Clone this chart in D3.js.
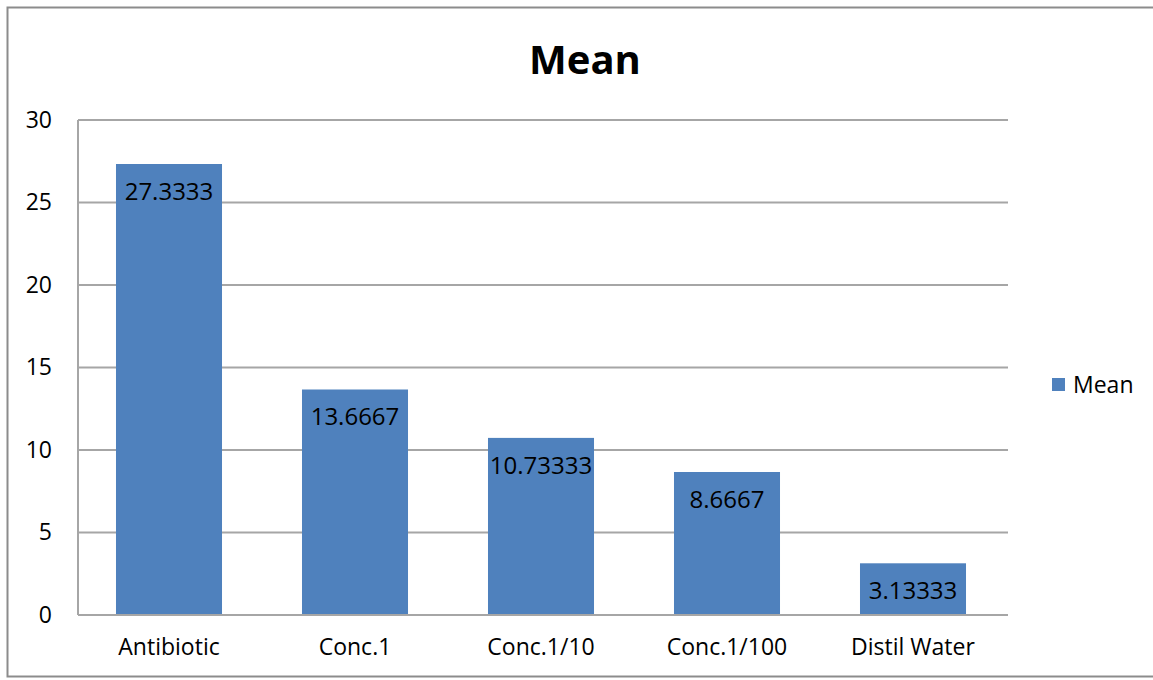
<!DOCTYPE html>
<html>
<head>
<meta charset="utf-8">
<script src="https://cdn.jsdelivr.net/npm/d3@7"></script>
<style>
  html, body { margin: 0; padding: 0; background: #fff; }
  svg { display: block; }
  text { font-family: "Open Sans", Lato, "Liberation Sans", sans-serif; fill: #000; }
</style>
</head>
<body>
<svg id="chart" width="1153" height="680"></svg>
<script>
// Mean values per treatment
const categories = ["Antibiotic", "Conc.1", "Conc.1/10", "Conc.1/100", "Distil Water"];
const meanValues = [27.3333, 13.6667, 10.73333, 8.6667, 3.13333];
const valueLabels = ["27.3333", "13.6667", "10.73333", "8.6667", "3.13333"];
const yTicks = [0, 5, 10, 15, 20, 25, 30];
const seriesName = "Mean";
const chartTitle = "Mean";

const svg = d3.select("#chart");
const W = 1153, H = 680;
const plot = { left: 78, right: 1008, top: 120, bottom: 615 };
const barColor = "#4f81bd";
const gridColor = "#a6a6a6";
const fontFamily = '"Open Sans", Lato, sans-serif';

// chart frame
svg.append("rect")
  .attr("x", 7.5).attr("y", 7.5)
  .attr("width", W + 10).attr("height", H - 11)
  .attr("fill", "#fff")
  .attr("stroke", "#8c8c8c").attr("stroke-width", 2);

const x = d3.scaleBand()
  .domain(categories)
  .range([plot.left, plot.right])
  .paddingInner(0.43)
  .paddingOuter(0.215)
  .align(0.475);

const y = d3.scaleLinear()
  .domain([0, 30])
  .range([plot.bottom, plot.top]);

// horizontal gridlines
svg.append("g")
  .selectAll("line")
  .data(yTicks.filter(d => d > 0))
  .join("line")
  .attr("x1", plot.left).attr("x2", plot.right)
  .attr("y1", d => y(d)).attr("y2", d => y(d))
  .attr("stroke", gridColor).attr("stroke-width", 2);

// y axis labels
const yAxis = d3.axisLeft(y).tickValues(yTicks).tickSize(0).tickPadding(26).tickFormat(d3.format("d"));
const yg = svg.append("g").attr("transform", `translate(${plot.left},0)`).call(yAxis);
yg.select(".domain").remove();
yg.selectAll("text").attr("font-size", 23).attr("font-family", fontFamily).attr("fill", "#000");

// bars
svg.append("g")
  .selectAll("rect")
  .data(meanValues)
  .join("rect")
  .attr("x", (d, i) => x(categories[i]))
  .attr("y", d => y(d))
  .attr("width", x.bandwidth())
  .attr("height", d => y(0) - y(d))
  .attr("fill", barColor);

// value labels inside bar tops
svg.append("g")
  .selectAll("text")
  .data(meanValues)
  .join("text")
  .attr("x", (d, i) => x(categories[i]) + x.bandwidth() / 2)
  .attr("y", d => y(d) + 36)
  .attr("text-anchor", "middle")
  .attr("font-size", 24)
  .attr("fill", "#111")
  .text((d, i) => valueLabels[i]);

// axis lines
svg.append("line")
  .attr("x1", plot.left).attr("x2", plot.left)
  .attr("y1", plot.top).attr("y2", plot.bottom)
  .attr("stroke", gridColor).attr("stroke-width", 2);
svg.append("line")
  .attr("x1", plot.left).attr("x2", plot.right)
  .attr("y1", plot.bottom).attr("y2", plot.bottom)
  .attr("stroke", gridColor).attr("stroke-width", 2);

// x axis labels
const xAxis = d3.axisBottom(x).tickSize(0).tickPadding(24);
const xg = svg.append("g").attr("transform", `translate(0,${plot.bottom})`).call(xAxis);
xg.select(".domain").remove();
xg.selectAll("text").attr("font-size", 23).attr("font-family", fontFamily).attr("fill", "#000");

// title
svg.append("text")
  .attr("x", 585).attr("y", 74)
  .attr("text-anchor", "middle")
  .attr("font-size", 40)
  .attr("font-weight", "bold")
  .text(chartTitle);

// legend
const lg = svg.append("g").attr("transform", "translate(1052,378)");
lg.append("rect").attr("width", 13).attr("height", 13).attr("fill", barColor);
lg.append("text").attr("x", 21).attr("y", 15).attr("font-size", 23).text(seriesName);
</script>
</body>
</html>
